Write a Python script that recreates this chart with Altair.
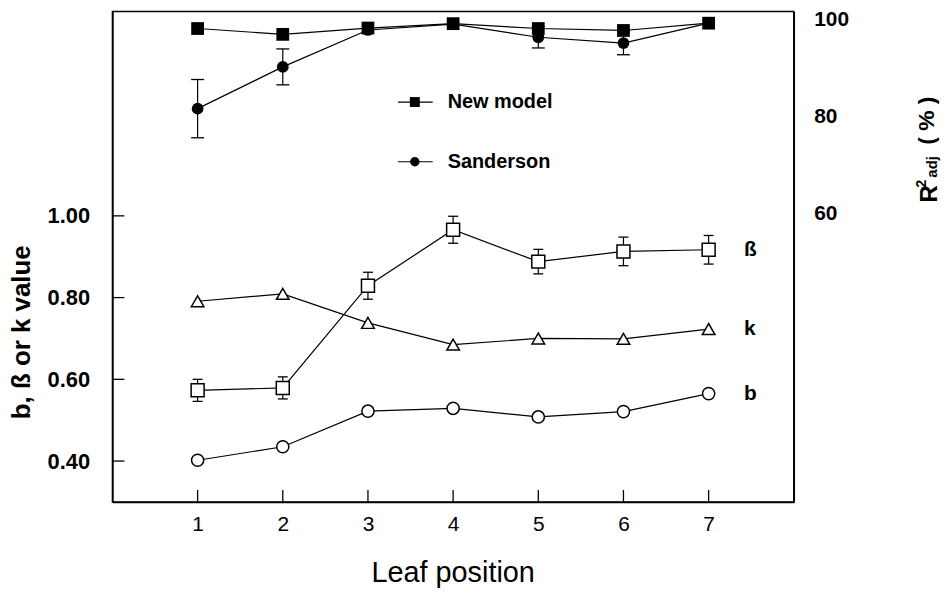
import altair as alt
import pandas as pd

# ---------------- data ----------------
positions = [1, 2, 3, 4, 5, 6, 7]
beta_vals = [0.573, 0.579, 0.829, 0.966, 0.888, 0.913, 0.917]
beta_err = [0.027, 0.027, 0.033, 0.033, 0.030, 0.035, 0.035]
k_vals = [0.791, 0.809, 0.738, 0.685, 0.700, 0.699, 0.723]
b_vals = [0.402, 0.435, 0.522, 0.529, 0.508, 0.521, 0.565]
new_model_r2 = [97.5, 96.3, 97.6, 98.5, 97.5, 97.1, 98.6]
sanderson_r2 = [81.0, 89.6, 97.2, 98.4, 95.7, 94.5, 98.6]
sanderson_err = [6.0, 3.7, 0.0, 0.0, 2.2, 2.4, 0.0]
left_ticks = [0.40, 0.60, 0.80, 1.00]
right_ticks = [60, 80, 100]
x_ticks = [1, 2, 3, 4, 5, 6, 7]
series_labels = ["ß", "k", "b"]
legend_labels = ["New model", "Sanderson"]

FONT = "Liberation Sans"

left_df = pd.DataFrame({
    "pos": positions,
    "beta": beta_vals,
    "beta_lo": [v - e for v, e in zip(beta_vals, beta_err)],
    "beta_hi": [v + e for v, e in zip(beta_vals, beta_err)],
    "k": k_vals,
    "b": b_vals,
})
right_df = pd.DataFrame({
    "pos": positions,
    "new": new_model_r2,
    "sand": sanderson_r2,
    "sand_lo": [v - e for v, e in zip(sanderson_r2, sanderson_err)],
    "sand_hi": [v + e for v, e in zip(sanderson_r2, sanderson_err)],
    "err": sanderson_err,
})
sand_err_df = right_df[right_df["err"] > 0]
label_df = pd.DataFrame({"lab": series_labels,
                         "v": [beta_vals[-1], k_vals[-1], b_vals[-1]]})
lt_df = pd.DataFrame({"t": left_ticks})
xt_df = pd.DataFrame({"pos": x_ticks})
one = pd.DataFrame({"a": [0]})

LS = alt.Scale(domain=[0.3, 1.5], nice=False, zero=False)
RS = alt.Scale(domain=[0, 101], nice=False, zero=False)
XS = alt.Scale(domain=[0, 8], nice=False, zero=False)

X = alt.X("pos:Q", scale=XS, axis=alt.Axis(
    values=x_ticks, format="d", tickSize=0, labelPadding=12,
    labelFontSize=21, labelFontWeight="normal",
    title="Leaf position", titleFontSize=29, titleFontWeight="normal",
    titleBaseline="alphabetic", titleY=80, titleX=342))

LINE = dict(color="black", strokeWidth=1.2)

# ---- beta (with left axis) ----
beta_err_rule = alt.Chart(left_df).mark_rule(color="black", strokeWidth=1.2).encode(
    x=X, y=alt.Y("beta_lo:Q", scale=LS, axis=None), y2="beta_hi:Q")
beta_cap_lo = alt.Chart(left_df).mark_tick(orient="horizontal", size=10, thickness=1.3, color="black", opacity=1).encode(
    x=X, y=alt.Y("beta_lo:Q", scale=LS, axis=None))
beta_cap_hi = alt.Chart(left_df).mark_tick(orient="horizontal", size=10, thickness=1.3, color="black", opacity=1).encode(
    x=X, y=alt.Y("beta_hi:Q", scale=LS, axis=None))
beta_line = alt.Chart(left_df).mark_line(**LINE).encode(
    x=X,
    y=alt.Y("beta:Q", scale=LS, axis=alt.Axis(
        orient="left", values=left_ticks, format=".2f", tickSize=0, labelPadding=23,
        labelFontSize=22, labelFontWeight="bold",
        title="b, ß or k value", titleFontSize=26, titleFontWeight="bold",
        titleAngle=270, titleAlign="center", titleBaseline="bottom",
        titleX=-78, titleY=322)))
beta_pts = alt.Chart(left_df).mark_point(shape="square", filled=True, fill="white", stroke="black",
                                         strokeWidth=1.5, size=170, opacity=1).encode(
    x=X, y=alt.Y("beta:Q", scale=LS, axis=None))

k_line = alt.Chart(left_df).mark_line(**LINE).encode(x=X, y=alt.Y("k:Q", scale=LS, axis=None))
k_pts = alt.Chart(left_df).mark_point(shape="triangle-up", filled=True, fill="white", stroke="black",
                                      strokeWidth=1.5, size=160, opacity=1).encode(
    x=X, y=alt.Y("k:Q", scale=LS, axis=None))
b_line = alt.Chart(left_df).mark_line(**LINE).encode(x=X, y=alt.Y("b:Q", scale=LS, axis=None))
b_pts = alt.Chart(left_df).mark_point(shape="circle", filled=True, fill="white", stroke="black",
                                      strokeWidth=1.5, size=150, opacity=1).encode(
    x=X, y=alt.Y("b:Q", scale=LS, axis=None))

labels = alt.Chart(label_df).mark_text(align="left", baseline="middle", fontSize=21,
                                       fontWeight="bold", color="black", font=FONT).encode(
    x=alt.value(635), y=alt.Y("v:Q", scale=LS, axis=None), text="lab:N")

left_ticks_layer = alt.Chart(lt_df).mark_rule(color="black", strokeWidth=1.3).encode(
    x=alt.value(0), x2=alt.value(12), y=alt.Y("t:Q", scale=LS, axis=None))
x_ticks_layer = alt.Chart(xt_df).mark_rule(color="black", strokeWidth=1.3).encode(
    x=X, y=alt.value(493), y2=alt.value(481))

# ---- R2 (right axis) ----
sand_rule = alt.Chart(sand_err_df).mark_rule(color="black", strokeWidth=1.2).encode(
    x=X, y=alt.Y("sand_lo:Q", scale=RS, axis=None), y2="sand_hi:Q")
sand_cap_lo = alt.Chart(sand_err_df).mark_tick(orient="horizontal", size=13, thickness=1.3, color="black", opacity=1).encode(
    x=X, y=alt.Y("sand_lo:Q", scale=RS, axis=None))
sand_cap_hi = alt.Chart(sand_err_df).mark_tick(orient="horizontal", size=13, thickness=1.3, color="black", opacity=1).encode(
    x=X, y=alt.Y("sand_hi:Q", scale=RS, axis=None))
sand_line = alt.Chart(right_df).mark_line(**LINE).encode(
    x=X,
    y=alt.Y("sand:Q", scale=RS, title=None, axis=alt.Axis(
        orient="right", values=right_ticks, tickSize=0, labelPadding=20, labelOffset=3,
        labelFontSize=21, labelFontWeight="bold")))
new_line = alt.Chart(right_df).mark_line(**LINE).encode(x=X, y=alt.Y("new:Q", scale=RS, axis=None))
sand_pts = alt.Chart(right_df).mark_point(shape="circle", filled=True, color="black", size=140, opacity=1).encode(
    x=X, y=alt.Y("sand:Q", scale=RS, axis=None))
new_pts = alt.Chart(right_df).mark_point(shape="square", filled=True, color="black", size=165, opacity=1).encode(
    x=X, y=alt.Y("new:Q", scale=RS, axis=None))

# ---- legend (inside plot) ----
def legend_row(yv, shape, label, size):
    r = alt.Chart(one).mark_rule(color="black", strokeWidth=1.2).encode(
        x=alt.value(287), x2=alt.value(322), y=alt.value(yv))
    p = alt.Chart(one).mark_point(shape=shape, filled=True, color="black", size=size, opacity=1).encode(
        x=alt.value(304), y=alt.value(yv))
    t = alt.Chart(one).mark_text(text=label, align="left", baseline="middle", fontSize=20,
                                 fontWeight="bold", color="black", font=FONT).encode(
        x=alt.value(337), y=alt.value(yv))
    return [r, p, t]

legend_layers = legend_row(91, "square", legend_labels[0], 100) + legend_row(151, "circle", legend_labels[1], 90)

# ---- right axis title: R^2_adj (%) ----
def rot_text(txt, xv, yv, fs):
    return alt.Chart(one).mark_text(text=txt, angle=270, align="left", baseline="alphabetic",
                                    fontSize=fs, fontWeight="bold", color="black", font=FONT).encode(
        x=alt.value(xv), y=alt.value(yv))

rtitle = [rot_text("R", 829, 192, 24), rot_text("2", 818, 177, 14),
          rot_text("adj", 829, 167, 15), rot_text("( % )", 826, 134, 23)]

chart = alt.layer(
    beta_line,
    sand_line,
    beta_err_rule, beta_cap_lo, beta_cap_hi, beta_pts,
    k_line, k_pts, b_line, b_pts, labels,
    left_ticks_layer, x_ticks_layer,
    sand_rule, sand_cap_lo, sand_cap_hi, new_line, sand_pts, new_pts,
    *legend_layers, *rtitle,
).resolve_scale(y="independent").properties(
    width=685, height=493,
    padding={"left": 105, "top": 2, "right": 150, "bottom": 86},
    autosize=alt.AutoSizeParams(type="none"),
).configure(font=FONT).configure_view(stroke="black", strokeWidth=1.5).configure_axis(
    domainColor="black", domainWidth=1.5, labelColor="black", titleColor="black",
    grid=False, labelFont=FONT, titleFont=FONT
)

chart.save("out.html", embed_options={"renderer": "svg", "actions": False})
